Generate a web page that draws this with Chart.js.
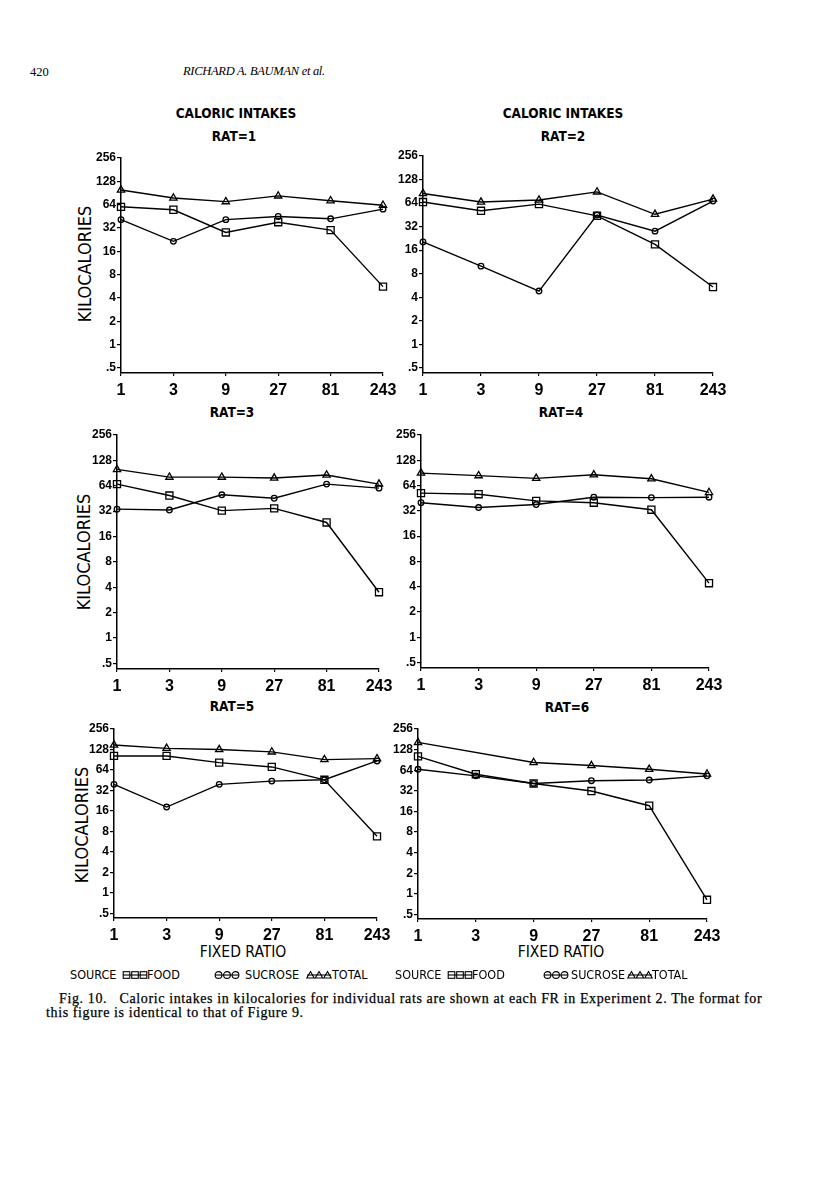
<!DOCTYPE html>
<html>
<head>
<meta charset="utf-8">
<script src="https://cdn.jsdelivr.net/npm/chart.js@4.4.1/dist/chart.umd.min.js"></script>
<style>
  html, body { margin: 0; padding: 0; background: #fff; }
  #page { position: relative; width: 816px; height: 1202px; background: #fff; overflow: hidden; color: #000; }
  .t { position: absolute; white-space: nowrap; line-height: 1; }
  .c { transform: translate(-50%, -50%); }
  .narrow { font-family: "Liberation Sans Narrow", "DejaVu Sans Condensed", "Liberation Sans", sans-serif; }
  .serif { font-family: "Liberation Serif", "DejaVu Serif", serif; }
  .title { font-size: 13.5px; font-weight: bold; }
  .ylab { font-size: 18px; transform: translate(-50%, -50%) rotate(-90deg); }
  .xlab { font-size: 15.5px; }
  .leg { font-size: 12.5px; transform: translateY(-50%); }
  .cap { font-size: 14px; letter-spacing: 0.62px; -webkit-text-stroke: 0.25px #000; }
  canvas { position: absolute; }
  svg { position: absolute; overflow: visible; }
</style>
</head>
<body>
<div id="page">
  <div class="t serif" style="left:30px; top:66px; font-size:12.5px;">420</div>
  <div class="t serif" style="left:183px; top:65px; font-size:12.5px; font-style:italic; letter-spacing:-0.3px;">RICHARD A. BAUMAN <span>et al.</span></div>

  <div class="t c narrow title" style="left:236px; top:114px;">CALORIC INTAKES</div>
  <div class="t c narrow title" style="left:234px; top:137px;">RAT=1</div>
  <div class="t c narrow title" style="left:563px; top:114px;">CALORIC INTAKES</div>
  <div class="t c narrow title" style="left:563px; top:137px;">RAT=2</div>
  <div class="t c narrow title" style="left:232px; top:413px;">RAT=3</div>
  <div class="t c narrow title" style="left:561px; top:413px;">RAT=4</div>
  <div class="t c narrow title" style="left:232px; top:707px;">RAT=5</div>
  <div class="t c narrow title" style="left:567px; top:708px;">RAT=6</div>

  <div class="t narrow ylab" style="left:85px; top:264px;">KILOCALORIES</div>
  <div class="t narrow ylab" style="left:84px; top:552px;">KILOCALORIES</div>
  <div class="t narrow ylab" style="left:82px; top:825px;">KILOCALORIES</div>

  <div class="t c narrow xlab" style="left:243px; top:953px;">FIXED RATIO</div>
  <div class="t c narrow xlab" style="left:561px; top:953px;">FIXED RATIO</div>

  <div class="t serif cap" style="left:59px; top:992px;">Fig. 10.&nbsp;&nbsp; Caloric intakes in kilocalories for individual rats are shown at each FR in Experiment 2. The format for</div>
  <div class="t serif cap" style="left:46px; top:1006px;">this figure is identical to that of Figure 9.</div>
</div>

<script>
// x categories (fixed ratio) and y ticks (kilocalories, log2 scale)
const fixedRatios = ['1', '3', '9', '27', '81', '243'];
const kcalTicks = [0.5, 1, 2, 4, 8, 16, 32, 64, 128, 256];
const kcalTickLabels = ['.5', '1', '2', '4', '8', '16', '32', '64', '128', '256'];

// values, one array per rat and source
const rat1Food    = [60, 55, 28, 38, 30, 5.6];
const rat1Sucrose = [41, 21.5, 41, 45, 42, 56];
const rat1Total   = [99, 78, 70, 83, 72, 63];

const rat2Food    = [66, 51, 62, 44, 19, 5.4];
const rat2Sucrose = [20.4, 10, 4.8, 45, 28, 68];
const rat2Total   = [85, 66, 70, 89, 46, 72];

const rat3Food    = [67, 49, 32.5, 34.5, 23.5, 3.5];
const rat3Sucrose = [33.8, 33, 50, 45.5, 67, 60];
const rat3Total   = [100, 81, 81, 79, 86, 67];

const rat4Food    = [52, 50.5, 42, 40, 33, 4.4];
const rat4Sucrose = [40, 35, 38, 46.5, 46, 46.5];
const rat4Total   = [90, 84, 78, 86, 77, 53];

const rat5Food    = [103, 103, 82, 71, 46, 6.8];
const rat5Sucrose = [39.4, 18.3, 39.4, 44, 46, 87];
const rat5Total   = [149, 133, 128, 118, 91, 94];

const rat6Food    = [102, 56, 41, 31.8, 19.4, 0.82];
const rat6Sucrose = [66, 53, 41, 45, 46, 53];
const rat6Total   = [163, null, 83, 75, 66, 56.5];   // no marker at FR 3

const legendNames = ['FOOD', 'SUCROSE', 'TOTAL'];

// plot-area boxes on the page (axis line positions)
const panels = [
    { food: rat1Food, sucrose: rat1Sucrose, total: rat1Total, left: 121, right: 383, top: 158, bottom: 373 },
    { food: rat2Food, sucrose: rat2Sucrose, total: rat2Total, left: 423, right: 713, top: 156, bottom: 373 },
    { food: rat3Food, sucrose: rat3Sucrose, total: rat3Total, left: 117, right: 379, top: 435, bottom: 669 },
    { food: rat4Food, sucrose: rat4Sucrose, total: rat4Total, left: 421, right: 709, top: 435, bottom: 668 },
    { food: rat5Food, sucrose: rat5Sucrose, total: rat5Total, left: 114, right: 377, top: 729, bottom: 918 },
    { food: rat6Food, sucrose: rat6Sucrose, total: rat6Total, left: 418, right: 707, top: 729, bottom: 919 },
];

const PAD_L = 4, PAD_T = 10, PAD_R = 26, PAD_B = 2;
const Y_W = 40, X_H = 32;
const SANS = '"Liberation Sans", Arial, sans-serif';

Chart.defaults.color = '#000';
Chart.defaults.font.family = SANS;

function series(label, data, style, radius) {
    return {
        label, data,
        borderColor: '#000',
        borderWidth: 1.4,
        pointStyle: style,
        pointRadius: radius,
        pointBorderWidth: 1.3,
        pointBorderColor: '#000',
        pointBackgroundColor: 'rgba(0,0,0,0)',
        tension: 0,
        spanGaps: true,
        clip: false
    };
}

function drawPanel(p) {
    const cv = document.createElement('canvas');
    cv.width = PAD_L + Y_W + (p.right - p.left) + PAD_R;
    cv.height = PAD_T + (p.bottom - p.top) + X_H + PAD_B;
    cv.style.left = (p.left - Y_W - PAD_L) + 'px';
    cv.style.top = (p.top - PAD_T) + 'px';
    document.getElementById('page').appendChild(cv);

    new Chart(cv.getContext('2d'), {
        type: 'line',
        data: {
            labels: fixedRatios,
            datasets: [
                series('TOTAL', p.total, 'triangle', 4.2),
                series('FOOD', p.food, 'rect', 5),
                series('SUCROSE', p.sucrose, 'circle', 2.8)
            ]
        },
        options: {
            responsive: false,
            animation: false,
            devicePixelRatio: 1,
            layout: { padding: { left: PAD_L, top: PAD_T, right: PAD_R, bottom: PAD_B } },
            plugins: { legend: { display: false }, tooltip: { enabled: false } },
            scales: {
                x: {
                    type: 'category',
                    offset: false,
                    grid: { drawOnChartArea: false, drawTicks: true, tickLength: 3, color: '#000', lineWidth: 1.2 },
                    border: { display: true, color: '#000', width: 1.5 },
                    ticks: { autoSkip: false, maxRotation: 0, padding: 5, color: '#000',
                             font: { family: SANS, size: 16, weight: 'bold' } },
                    afterFit: a => { a.height = X_H; }
                },
                y: {
                    type: 'logarithmic',
                    min: 0.43,
                    max: 256,
                    grid: { drawOnChartArea: false, drawTicks: true, tickLength: 4, color: '#000', lineWidth: 1.2 },
                    border: { display: true, color: '#000', width: 1.5 },
                    ticks: {
                        padding: 1, color: '#000',
                        font: { family: SANS, size: 12, weight: 'bold' },
                        callback: v => {
                            const i = kcalTicks.indexOf(v);
                            return i < 0 ? '' : kcalTickLabels[i];
                        }
                    },
                    afterBuildTicks: a => { a.ticks = kcalTicks.map(v => ({ value: v })); },
                    afterFit: a => { a.width = Y_W; }
                }
            }
        }
    });
}

panels.forEach(drawPanel);

// ── legend rows under the bottom panels ──
function symbolSvg(kind) {
    const ns = 'http://www.w3.org/2000/svg';
    const svg = document.createElementNS(ns, 'svg');
    svg.setAttribute('width', '26');
    svg.setAttribute('height', '10');
    let inner = '<line x1="1" y1="5" x2="25" y2="5" stroke="#000" stroke-width="1.1"/>';
    [4.5, 13, 21.5].forEach(cx => {
        if (kind === 'rect') inner += `<rect x="${cx - 3.3}" y="1.7" width="6.6" height="6.6" fill="none" stroke="#000" stroke-width="1.1"/>`;
        if (kind === 'circle') inner += `<circle cx="${cx}" cy="5" r="3.4" fill="none" stroke="#000" stroke-width="1.1"/>`;
        if (kind === 'triangle') inner += `<polygon points="${cx},1.5 ${cx + 3.7},8 ${cx - 3.7},8" fill="none" stroke="#000" stroke-width="1.1"/>`;
    });
    svg.innerHTML = inner;
    return svg;
}

function legendRow(y, xs) {
    const page = document.getElementById('page');
    const addText = (txt, x) => {
        const d = document.createElement('div');
        d.className = 't narrow leg';
        d.style.left = x + 'px';
        d.style.top = y + 'px';
        d.textContent = txt;
        page.appendChild(d);
    };
    addText('SOURCE', xs.source);
    ['rect', 'circle', 'triangle'].forEach((k, i) => {
        const s = symbolSvg(k);
        s.style.left = xs.sym[i] + 'px';
        s.style.top = (y - 5) + 'px';
        page.appendChild(s);
        addText(legendNames[i], xs.text[i]);
    });
}

legendRow(975, { source: 70, sym: [122, 214, 306], text: [147, 245, 332] });
legendRow(975, { source: 395, sym: [447, 543, 627], text: [472, 571, 652] });
</script>
</body>
</html>
